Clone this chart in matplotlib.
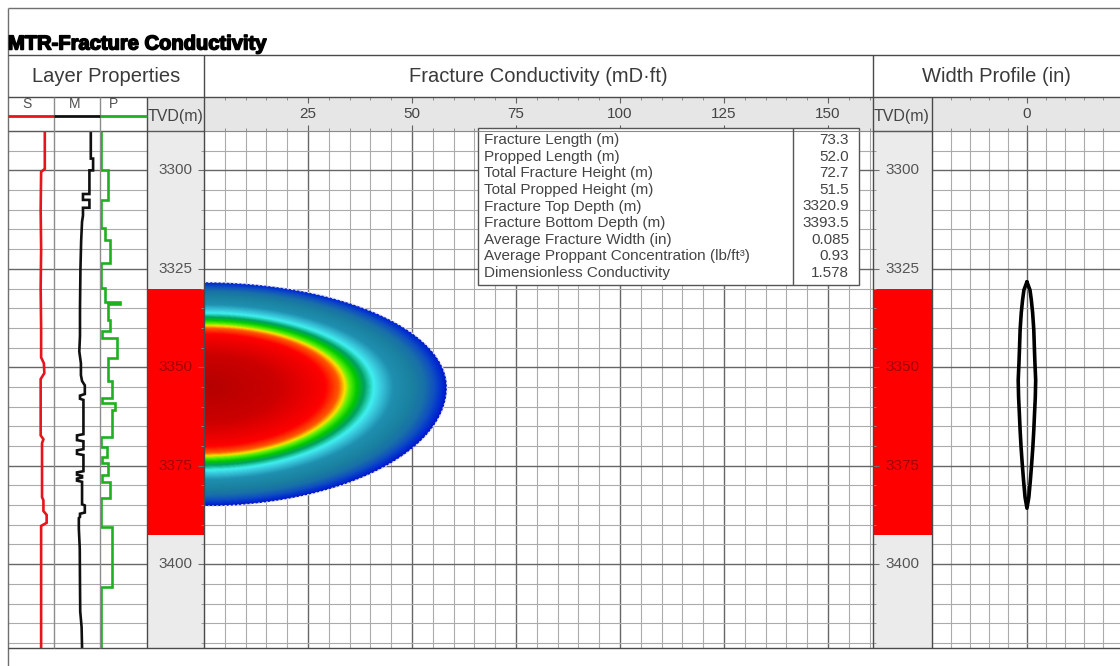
import numpy as np
import matplotlib
matplotlib.use('Agg')
import matplotlib.pyplot as plt
from matplotlib.colors import LinearSegmentedColormap
from matplotlib.patches import Rectangle, Polygon
from matplotlib.transforms import blended_transform_factory
import matplotlib.patheffects as pe

plt.rcParams['font.family'] = ['Liberation Sans', 'DejaVu Sans']

# ---------------- data ----------------
title = "MTR-Fracture Conductivity"
depth_top, depth_bottom = 3290.0, 3421.3
tvd_ticks = [3300, 3325, 3350, 3375, 3400]
cond_ticks = [25, 50, 75, 100, 125, 150]
cond_max = 160.8
width_ticks = [0]
width_min, width_max = -0.5, 0.49

pay_top, pay_bottom = 3330.2, 3392.6

# Layer property logs (fraction of track width)
s_depth = [3290.0, 3299.6, 3300.4, 3310.0, 3320.0, 3330.0, 3340.0, 3347.5, 3349.0,
           3351.5, 3353.0, 3360.0, 3367.3, 3368.3, 3369.3, 3375.0, 3383.0, 3383.8,
           3386.5, 3387.5, 3389.5, 3390.3, 3400.0, 3410.0, 3421.3]
s_val = [0.80, 0.80, 0.72, 0.71, 0.72, 0.71, 0.72, 0.72, 0.78,
         0.79, 0.71, 0.71, 0.71, 0.77, 0.74, 0.74, 0.74, 0.77,
         0.77, 0.84, 0.84, 0.72, 0.72, 0.72, 0.72]

m_depth = [3290.0, 3297.0, 3297.0, 3300.0, 3300.0, 3306.0, 3306.0, 3307.5, 3307.5,
           3309.5, 3309.5, 3311.5, 3313.0, 3318.0, 3325.0, 3335.0, 3342.0, 3346.0,
           3349.0, 3352.0, 3353.5, 3354.6, 3356.8, 3357.2, 3358.0, 3358.3, 3367.0,
           3367.3, 3368.5, 3368.8, 3370.8, 3371.1, 3372.0, 3372.3, 3376.4, 3376.7,
           3377.3, 3377.6, 3378.0, 3378.3, 3378.8, 3379.1, 3384.8, 3385.1, 3386.9,
           3387.2, 3388.0, 3388.3, 3391.0, 3396.0, 3405.0, 3412.0, 3416.0, 3421.3]
m_val = [0.80, 0.80, 0.85, 0.85, 0.77, 0.77, 0.63, 0.63, 0.77,
         0.77, 0.63, 0.63, 0.61, 0.59, 0.575, 0.565, 0.565, 0.55,
         0.585, 0.585, 0.61, 0.67, 0.67, 0.565, 0.565, 0.64, 0.64,
         0.50, 0.50, 0.64, 0.64, 0.50, 0.50, 0.64, 0.64, 0.50,
         0.50, 0.61, 0.61, 0.50, 0.50, 0.61, 0.61, 0.67, 0.67,
         0.565, 0.565, 0.54, 0.54, 0.56, 0.565, 0.57, 0.60, 0.61]

p_edges = [3290.0, 3300.0, 3307.6, 3314.7, 3317.8, 3323.6, 3329.9, 3333.4, 3334.0,
           3338.1, 3340.9, 3342.6, 3347.7, 3353.6, 3357.9, 3359.0, 3360.9, 3367.8,
           3370.3, 3372.8, 3374.4, 3377.4, 3379.2, 3383.2, 3390.6, 3405.8, 3421.3]
p_val = [0.015, 0.17, 0.015, 0.106, 0.21, 0.015, 0.106, 0.43, 0.17,
         0.21, 0.04, 0.36, 0.17, 0.255, 0.04, 0.32, 0.255, 0.015,
         0.15, 0.04, 0.17, 0.04, 0.21, 0.015, 0.255, 0.015]

# Fracture geometry (conductivity track)
frac_top, frac_tip, frac_bottom = 3328.4, 3355.1, 3385.3
frac_length = 58.4
cond_levels = [0.00, 0.30, 0.50, 0.555, 0.58, 0.60, 0.63, 0.66, 0.70, 0.73,
               0.78, 0.86, 0.91, 0.95, 0.98, 1.00]
cond_colors = ['#b40000', '#cc0000', '#ff0000', '#ff5a00', '#ffe000', '#60f000',
               '#00c800', '#00a060', '#40f0f0', '#38c8dc', '#1f90b0', '#1a80a0',
               '#1870a8', '#1050c0', '#0030d0', '#0018c8']

# Width profile (half width, in)
width_depth = [3328.3, 3330.4, 3332.9, 3336.2, 3340.5, 3344.9, 3348.9, 3353.3,
               3357.6, 3361.7, 3366.0, 3370.3, 3374.4, 3378.7, 3383.0, 3385.8]
width_half = [0.0, 0.016, 0.023, 0.030, 0.036, 0.039, 0.042, 0.046,
              0.044, 0.040, 0.036, 0.031, 0.025, 0.018, 0.010, 0.0]

table_labels = ["Fracture Length (m)", "Propped Length (m)", "Total Fracture Height (m)",
                "Total Propped Height (m)", "Fracture Top Depth (m)",
                "Fracture Bottom Depth (m)", "Average Fracture Width (in)",
                "Average Proppant Concentration (lb/ft\u00b3)", "Dimensionless Conductivity"]
table_values = ["73.3", "52.0", "72.7", "51.5", "3320.9", "3393.5", "0.085", "0.93", "1.578"]

# ---------------- layout ----------------
W, H = 1120, 666
fig = plt.figure(figsize=(W / 100, H / 100), dpi=100)
fig.patch.set_facecolor('white')

X_L, X_S, X_M, X_P, X_C, X_T2, X_W, X_R = 8, 54, 100, 147, 204, 873, 932, 1120
Y_F, Y_H1, Y_H2, Y_D, Y_B = 8, 55, 97, 131, 648

MINOR_C = '#ababab'
MAJOR_C = '#666666'
BAND_C = '#e6e6e6'
TXT_C = '#3a3a3a'


def add_ax(x0, x1, y0, y1, **kw):
    return fig.add_axes([x0 / W, 1 - y1 / H, (x1 - x0) / W, (y1 - y0) / H], **kw)


def depth_setup(ax, xlim, xmajor=None, xminor=None):
    ax.set_ylim(depth_bottom, depth_top)
    ax.set_xlim(*xlim)
    ax.set_yticks(tvd_ticks)
    ax.set_yticks(np.arange(3290, 3425, 5), minor=True)
    ax.set_xticks(xmajor if xmajor is not None else [])
    ax.set_xticks(xminor if xminor is not None else [], minor=True)
    ax.tick_params(which='both', length=0, labelleft=False, labelbottom=False)
    ax.grid(True, which='minor', color=MINOR_C, lw=0.8)
    ax.grid(True, which='major', color=MAJOR_C, lw=1.0)
    ax.set_axisbelow(True)
    for s in ax.spines.values():
        s.set_visible(False)


# Layer property tracks
ax_s = add_ax(X_L, X_S, Y_D, Y_B)
depth_setup(ax_s, (0, 1))
ax_s.plot(s_val, s_depth, color='#e8141c', lw=1.9, solid_joinstyle='miter')

ax_m = add_ax(X_S, X_M, Y_D, Y_B)
depth_setup(ax_m, (0, 1))
ax_m.plot(m_val, m_depth, color='#101010', lw=1.9, solid_joinstyle='miter')

ax_p = add_ax(X_M, X_P, Y_D, Y_B)
depth_setup(ax_p, (0, 1))
ax_p.stairs(p_val, p_edges, orientation='horizontal', baseline=None,
            color='#1fb01f', lw=1.9)
ax_p.set_ylim(depth_bottom, depth_top)
ax_p.set_xlim(0, 1)


def tvd_track(x0, x1, side):
    ax = add_ax(x0, x1, Y_D, Y_B)
    ax.set_facecolor('#ebebeb')
    ax.set_ylim(depth_bottom, depth_top)
    ax.set_xlim(0, 1)
    ax.set_xticks([])
    ax.set_yticks(tvd_ticks)
    ax.set_yticks(np.arange(3290, 3425, 5), minor=True)
    ax.yaxis.set_ticks_position(side)
    ax.tick_params(which='major', length=4, direction='in', color='#707070', labelleft=False, labelright=False)
    ax.tick_params(which='minor', length=2, direction='in', color='#909090')
    for s in ax.spines.values():
        s.set_visible(False)
    ax.axhspan(pay_top, pay_bottom, color='#ff0000', lw=0, zorder=1)
    tr = blended_transform_factory(ax.transAxes, ax.transData)
    for t in tvd_ticks:
        inside = pay_top <= t <= pay_bottom
        ax.text(0.5, t, str(t), transform=tr, ha='center', va='center', fontsize=11,
                color='#a00000' if inside else '#555555', zorder=3)
    return ax


tvd_track(X_P, X_C, 'right')
tvd_track(X_T2, X_W, 'left')

# Conductivity track
ax_c = add_ax(X_C, X_T2, Y_D, Y_B)
depth_setup(ax_c, (0, cond_max), xmajor=cond_ticks, xminor=np.arange(0, cond_max, 5))

cmap = LinearSegmentedColormap.from_list('cond', list(zip(cond_levels, cond_colors)))
L = frac_length
xs = np.linspace(0, L, 500)
ds = np.linspace(frac_top, frac_bottom, 500)
X, D = np.meshgrid(xs, ds)
Hh = np.where(D < frac_tip, frac_tip - frac_top, frac_bottom - frac_tip)
R = np.clip(np.sqrt((X / L) ** 2 + ((D - frac_tip) / Hh) ** 2), 0, 1)
im = ax_c.imshow(R, extent=[0, L, frac_bottom, frac_top], origin='upper', cmap=cmap,
                 vmin=0, vmax=1, aspect='auto', interpolation='bilinear', zorder=2)
t1 = np.linspace(np.pi / 2, 0, 120)
t2 = np.linspace(0, np.pi / 2, 120)
bx = np.concatenate([L * np.cos(t1), L * np.cos(t2)])
bd = np.concatenate([frac_tip - (frac_tip - frac_top) * np.sin(t1),
                     frac_tip + (frac_bottom - frac_tip) * np.sin(t2)])
clip = Polygon(np.column_stack([bx, bd]), closed=True, facecolor='none', edgecolor='none',
               transform=ax_c.transData)
ax_c.add_patch(clip)
im.set_clip_path(clip)
ax_c.plot(bx, bd, color='#dcdcec', lw=1.0, ls=(0, (1.5, 1.5)), zorder=3)
ax_c.set_xlim(0, cond_max)
ax_c.set_ylim(depth_bottom, depth_top)

# Width profile track
ax_w = add_ax(X_W, X_R, Y_D, Y_B)
depth_setup(ax_w, (width_min, width_max), xmajor=width_ticks,
            xminor=np.round(np.arange(-0.5, 0.5, 0.1), 2))
wh = np.array(width_half)
wd = np.array(width_depth)
ax_w.plot(np.concatenate([wh, -wh[::-1]]), np.concatenate([wd, wd[::-1]]),
          color='black', lw=2.6, solid_joinstyle='round', solid_capstyle='round', zorder=3)
ax_w.set_xlim(width_min, width_max)

# Header bands with ticks
def header_band(x0, x1, xlim, major, minor, labels):
    hb = add_ax(x0, x1, Y_H2, Y_D)
    hb.set_facecolor(BAND_C)
    hb.set_xlim(*xlim)
    hb.set_ylim(0, 1)
    hb.set_yticks([])
    hb.xaxis.set_ticks_position('both')
    hb.set_xticks(major)
    hb.set_xticks(minor, minor=True)
    hb.tick_params(which='major', length=4, direction='in', color='#606060',
                   labelbottom=False, labeltop=False)
    hb.tick_params(which='minor', length=2, direction='in', color='#808080')
    for s in hb.spines.values():
        s.set_visible(False)
    tr = blended_transform_factory(hb.transData, hb.transAxes)
    for v, lab in zip(major, labels):
        hb.text(v, 0.5, lab, transform=tr, ha='center', va='center', fontsize=11, color='#444444')
    return hb


header_band(X_C, X_T2, (0, cond_max), cond_ticks, np.arange(0, cond_max, 5),
            [str(v) for v in cond_ticks])
header_band(X_W, X_R, (width_min, width_max), width_ticks,
            np.round(np.arange(-0.5, 0.5, 0.1), 2), [str(v) for v in width_ticks])

# Overlay for frame, headers and table
ov = fig.add_axes([0, 0, 1, 1])
ov.set_xlim(0, W)
ov.set_ylim(H, 0)
ov.axis('off')
ov.patch.set_alpha(0)

# TVD header cells
for x0, x1 in [(X_P, X_C), (X_T2, X_W)]:
    ov.add_patch(Rectangle((x0, Y_H2), x1 - x0, Y_D - Y_H2, facecolor=BAND_C, edgecolor='none'))
    t = ov.text(x0 + 1, 117, 'TVD(m)', ha='left', va='center', fontsize=11.5, color='#444444')
    t.set_clip_path(Rectangle((x0, Y_H2), x1 - x0 - 1, Y_D - Y_H2, transform=ov.transData))


def hline(y, x0, x1, c='#4a4a4a', lw=1.0):
    ov.plot([x0, x1], [y, y], color=c, lw=lw, clip_on=False, solid_capstyle='butt')


def vline(x, y0, y1, c='#4a4a4a', lw=1.0):
    ov.plot([x, x], [y0, y1], color=c, lw=lw, clip_on=False, solid_capstyle='butt')


hline(Y_F, X_L, W, c='#707070')
vline(X_L, Y_F, H, c='#707070')
hline(Y_H1, X_L, W)
hline(Y_H2, X_L, W)
hline(Y_D, X_L, X_C, c='#5a5a5a')
hline(Y_D, X_C, W, c='#8a8a8a', lw=0.8)
hline(Y_D, X_T2, X_W, c='#5a5a5a')
hline(Y_B, X_L, W)
vline(X_C, Y_H1, Y_B)
vline(X_T2, Y_H1, Y_B)
vline(X_P, Y_H2, Y_B)
vline(X_W, Y_H2, Y_B)
vline(X_S, Y_H2, Y_B, c='#8c8c8c')
vline(X_M, Y_H2, Y_B, c='#8c8c8c')

# S / M / P column headings
for x0, x1, lab, col, lx in [(X_L, X_S, 'S', '#e8141c', 27), (X_S, X_M, 'M', '#101010', 75),
                             (X_M, X_P, 'P', '#1fb01f', 113)]:
    ov.text(lx, 104, lab, ha='center', va='center', fontsize=10, color='#505050')
    hline(116, x0, x1, c=col, lw=2.0)

# Titles
ov.text(X_L, 44, title, ha='left', va='center', fontsize=14.5, fontweight='bold', color='black',
        path_effects=[pe.withStroke(linewidth=1.1, foreground='black')])
ov.text((X_L + X_C) / 2, 77, 'Layer Properties', ha='center', va='center', fontsize=14.5, color=TXT_C)
ov.text((X_C + X_T2) / 2, 77, 'Fracture Conductivity (mD\u00b7ft)', ha='center', va='center',
        fontsize=14.5, color=TXT_C)
ov.text((X_T2 + W) / 2, 77, 'Width Profile (in)', ha='center', va='center', fontsize=14.5, color=TXT_C)

# Summary table
TB_X0, TB_X1, TB_DIV, TB_Y0, TB_Y1 = 478, 859, 793, 128, 285
ov.add_patch(Rectangle((TB_X0, TB_Y0), TB_X1 - TB_X0, TB_Y1 - TB_Y0, facecolor='white',
                       edgecolor='#555555', lw=1.0))
vline(TB_DIV, TB_Y0, TB_Y1, c='#555555')
row_h = (TB_Y1 - TB_Y0 - 8) / len(table_labels)
for i, (lab, val) in enumerate(zip(table_labels, table_values)):
    y = TB_Y0 + 4 + row_h * (i + 0.5)
    ov.text(TB_X0 + 6, y, lab, ha='left', va='center', fontsize=11, color='#444444')
    ov.text(849, y, val, ha='right', va='center', fontsize=11, color='#444444')

fig.savefig('out.png', dpi=100, facecolor='white')
